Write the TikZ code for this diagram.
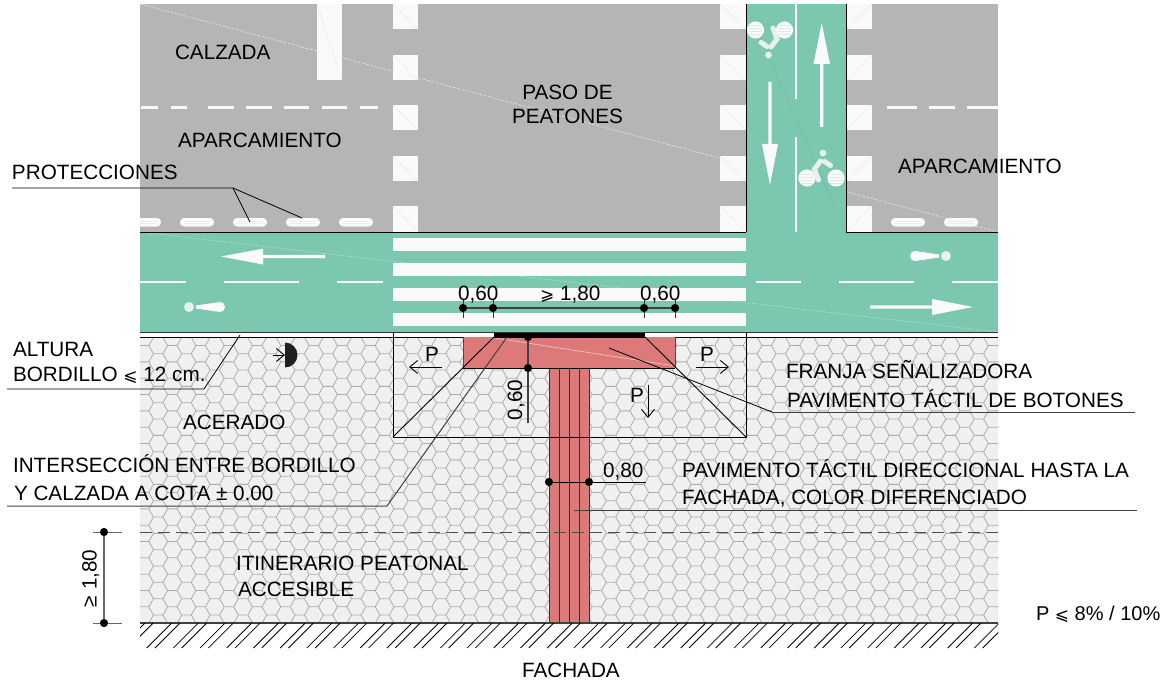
\documentclass[tikz,border=0pt]{standalone}
\usepackage{fontspec}
\setmainfont{Liberation Sans}
\newfontfamily\symf{DejaVu Sans}
\usetikzlibrary{arrows.meta}
\definecolor{road}{HTML}{B5B5B5}
\definecolor{lane}{HTML}{7CC7B0}
\definecolor{paint}{HTML}{FAFAFA}
\definecolor{walk}{HTML}{F0F0F0}
\definecolor{hexc}{HTML}{ADADAD}
\definecolor{tact}{HTML}{DC7A7A}
\newcommand{\gee}{{\symf\fontsize{17}{17}\selectfont ⩾}}
\newcommand{\lee}{{\symf\fontsize{17}{17}\selectfont ⩽}}
\tikzset{
 lbl/.style={anchor=base west,inner sep=0pt,outer sep=0pt,font=\fontsize{20.7}{24}\selectfont},
 leader/.style={draw=black,line width=0.8pt},
 gleader/.style={draw=black!75,line width=1pt},
 edge/.style={draw=black,line width=0.9pt},
 faint/.style={draw=white!75!road,line width=0.5pt,dash pattern=on 3pt off 1.5pt},
 squaremark/.style={fill=paint,draw=none},
 pill/.style={fill=paint,draw=none,rounded corners=4pt},
 paintline/.style={draw=paint,line width=2.2pt},
 dot/.style={circle,fill=black,inner sep=0pt,minimum size=8.2pt},
 tick/.style={draw=black!80,line width=0.9pt},
 slope/.style={draw=black,line width=0.9pt,-{Straight Barb[length=8pt,width=13pt,line width=0.9pt]}},
 wheel/.style={fill=paint,draw=none},
 limb/.style={draw=paint!85!lane,line width=5pt,line cap=round},
}
\newcommand{\bikeicon}[3]{%
 \begin{scope}[shift={(#1,#2)},rotate=#3]
  \fill[wheel] (-14.5,0) circle (8.6);
  \fill[wheel] (14.5,0) circle (8.6);
  \foreach \dy in {-4,-1,2,5}{
   \draw[lane!25!paint,line width=0.5pt] (-21,\dy) -- (-8,\dy);
   \draw[lane!25!paint,line width=0.5pt] (8,\dy) -- (21,\dy);}
  \fill[paint!85!lane] (1.5,-25) circle (3.4);
  \draw[limb] (-1,-17) -- (-7,-9) -- (-3,2);
  \draw[limb] (3,-16.5) -- (9,-12.5);
 \end{scope}}
\newcommand{\smallbike}[3]{%
 \fill[paint!85!lane] (#1,#2) circle (5);
 \fill[paint] (#1+#3*7,#2-1.5) -- (#1+#3*31,#2-5) -- (#1+#3*31,#2+5) -- (#1+#3*7,#2+1.5) -- cycle;
 \fill[paint] (#1+#3*31,#2) circle (5);}
\begin{document}
\begin{tikzpicture}[x=1pt,y=-1pt]
\useasboundingbox (0,0) rectangle (1168,682);
% ---- surfaces
\fill[road] (140,4) rectangle (998,232);
\fill[walk] (140,337) rectangle (998,623);
% hexagon paving
\begin{scope}
 \clip (140,337) rectangle (998,623);
 \foreach \i in {0,...,63}{
  \pgfmathsetmacro{\cx}{129.9+14.15*\i}
  \pgfmathsetmacro{\cy}{mod(\i,2)==0 ? 623.17 : 615}
  \foreach \j in {-1,0,...,18}{
   \draw[hexc,line width=0.8pt] ({\cx-9.43},{\cy-16.33*\j}) -- ++(4.71,-8.17) -- ++(9.43,0) -- ++(4.71,8.17);
  }}
\end{scope}
% ---- road markings
\fill[squaremark] (317,4) rectangle (342,80);
\foreach \y in {4,55,105,156,206}{
 \fill[squaremark] (393,\y) rectangle (418,\y+25.5);
 \fill[squaremark] (720,\y) rectangle (746,\y+25.5);
 \fill[squaremark] (846,\y) rectangle (872,\y+25.5);
 \draw[black!10,line width=0.4pt] (393,\y) -- (418,\y+25.5);
 \draw[black!10,line width=0.4pt] (720,\y) -- (746,\y+25.5);
 \draw[black!10,line width=0.4pt] (846,\y+25.5) -- (872,\y);
}
\draw[black!10,line width=0.4pt] (317,4) -- (342,80);
\foreach \a/\b in {141/158,171/187,208/234,246/272,284/309,322/347,360/378,887/917,929/955,967/998}{
 \draw[paintline] (\a,107.5) -- (\b,107.5);}
\foreach \a/\b in {180/214,233/267,286/320,339/373,891/925,944/978}{
 \fill[pill] (\a,218) rectangle (\b,226.5);
 \draw[black!7,line width=0.4pt] (\a+4,221) -- (\b-4,221) (\a+4,223.5) -- (\b-4,223.5);}
\begin{scope}
 \clip (140,210) rectangle (998,232);
 \fill[pill] (120,218) rectangle (161,226.5);
 \draw[black!7,line width=0.4pt] (140,221) -- (157,221) (140,223.5) -- (157,223.5);
\end{scope}
\draw[faint] (140,4) -- (998,232);
% ---- bike lanes
\fill[lane] (746,4) rectangle (846,232);
\fill[lane] (140,232) rectangle (998,332);
\draw[faint,draw=lane!55!white] (140,232) -- (998,332);
\draw[lane!92!black,line width=0.4pt] (770,60) -- (846,232);
\foreach \y in {238,263,288,313}{\fill[squaremark] (393,\y) rectangle (746,\y+12.7);}
\foreach \a/\b in {140/186,224/299,337/383,756/801,839/914,952/998}{
 \draw[paintline] (\a,281.7) -- (\b,281.7);}
\draw[paintline] (796,4) -- (796,99) (796,137) -- (796,232);
% arrows
\fill[paint] (221,256.5) -- (263,248.7) -- (263,254.8) -- (325,254.8) -- (325,258.2) -- (263,258.2) -- (263,264.5) -- cycle;
\fill[paint] (973,307) -- (932,299) -- (932,305.3) -- (870,305.3) -- (870,308.7) -- (932,308.7) -- (932,315) -- cycle;
\fill[paint] (821.7,23) -- (813.5,64) -- (820,64) -- (820,127) -- (823.4,127) -- (823.4,64) -- (830,64) -- cycle;
\fill[paint] (770,185) -- (762,144) -- (768.3,144) -- (768.3,82) -- (771.7,82) -- (771.7,144) -- (778,144) -- cycle;
\smallbike{189}{307}{1}
\smallbike{946}{256}{-1}
\bikeicon{821.5}{178}{0}
\bikeicon{770}{30}{180}
% ---- kerb lines
\fill[white] (140,332) rectangle (998,337);
\draw[edge] (140,232) -- (746,232) (746,4) -- (746,232);
\draw[edge] (846,4) -- (846,232) -- (998,232);
\draw[edge,draw=black!80] (140,332) -- (998,332);
\draw[edge] (140,337) -- (998,337);
% ---- tactile pavement
\fill[tact] (463,337) rectangle (675,368);
\fill[tact] (549,368) rectangle (589,623);
\draw[white!70!tact,line width=0.5pt] (495,338) -- (675,366);
\foreach \x in {549,559,569,579,589}{\draw[black!80,line width=0.9pt] (\x,368) -- (\x,623);}
\draw[black!70,line width=0.9pt] (463,337) -- (463,368);
\draw[black!70,line width=0.9pt] (675,337) -- (675,368);
\draw[edge] (463,368) -- (675,368);
\fill[black] (494,333) rectangle (645,337.5);
% ramp
\draw[edge] (393,333) -- (393,437) -- (746,437) -- (746,333);
\draw[edge] (494,337) -- (393,437);
\draw[edge] (645,337) -- (746,437);
% slope arrows
\draw[slope] (442,367) -- (409,367);
\draw[slope] (696,367) -- (729,367);
\draw[slope] (648,385) -- (648,418);
\node[lbl] (pl) at (425,361) {P};
\node[lbl] (pr) at (700,361) {P};
\node[lbl] (pd) at (630,402) {P};
% tactile sign pad
\fill[black!88] (285,342.5) arc[start angle=-90,end angle=90,radius=12.5] -- cycle;
\draw[slope] (273,355) -- (285,355);
% ---- facade
\draw[black!75,line width=1.4pt] (140,623) -- (998,623);
\begin{scope}
 \clip (140,623) rectangle (998,650);
 \foreach \k in {0,...,33}{
  \draw[black,line width=0.8pt] ({120.0+26.7*\k},648) -- ++(25,-25);
  \draw[black,line width=0.8pt] ({128.3+26.7*\k},648) -- ++(25,-25);}
\end{scope}
\draw[black!70,line width=0.9pt,dash pattern=on 12pt off 6pt] (140,532) -- (998,532);
% ---- dimensions
\coordinate (d1) at (463,308);\coordinate (d2) at (493,308);\coordinate (d3) at (644,308);\coordinate (d4) at (675,308);
\foreach \c/\x in {d1/463,d2/493,d3/644,d4/675}{
 \draw[tick] (\x,300) -- (\x,318);
 \node[dot] (n\c) at (\c) {};}
\draw[draw=black!75,line width=1.1pt] (nd1) -- (nd2) -- (nd3) -- (nd4);
\node[lbl] (t060a) at (458,300) {0,60};
\node[lbl] (t180) at (540,300) {\gee\ 1,80};
\node[lbl] (t060b) at (640,300) {0,60};
% 0,60 vertical
\coordinate (v1) at (528,337);\coordinate (v2) at (528,368);\coordinate (v3) at (528,423);
\node[dot] (nv1) at (v1) {};
\node[dot] (nv2) at (v2) {};
\draw[draw=black!75,line width=1.1pt] (nv1) -- (nv2) -- (v3);
\node[lbl,rotate=90] (t060c) at (522,420) {0,60};
% 0,80
\coordinate (w1) at (549,482);\coordinate (w2) at (589,482);\coordinate (w3) at (646,482);
\draw[tick] (549,469) -- (549,491) (589,469) -- (589,491);
\node[dot] (nw1) at (w1) {};
\node[dot] (nw2) at (w2) {};
\draw[leader] (nw1) -- (nw2) -- (w3);
\node[lbl] (t080) at (603,477) {0,80};
% >=1,80 left
\coordinate (u1) at (104,532);\coordinate (u2) at (104,623);
\draw[tick,draw=black!60] (93,532) -- (122,532) (93,623) -- (122,623);
\node[dot] (nu1) at (u1) {};
\node[dot] (nu2) at (u2) {};
\draw[draw=black!60,line width=1.3pt] (nu1) -- (nu2);
\node[lbl,rotate=90] (t180b) at (96.5,607) {≥ 1,80};
% ---- labels
\node[lbl] (a) at (175,60) {CALZADA};
\node[lbl] (b) at (178,148) {APARCAMIENTO};
\node[lbl,anchor=base,align=center] (c) at (567.5,100) {PASO DE};
\node[lbl,anchor=base] (c2) at (567.5,124) {PEATONES};
\node[lbl] (d) at (898,174) {APARCAMIENTO};
\node[lbl] (e) at (12,179) {PROTECCIONES};
\node[lbl] (f1) at (13,356) {ALTURA};
\node[lbl] (f2) at (13,381) {BORDILLO \lee\ 12 cm.};
\node[lbl] (g) at (183,429) {ACERADO};
\node[lbl] (h1) at (13,472) {INTERSECCIÓN ENTRE BORDILLO};
\node[lbl] (h2) at (14,500) {Y CALZADA A COTA ± 0.00};
\node[lbl] (i1) at (236,570) {ITINERARIO PEATONAL};
\node[lbl] (i2) at (238,596) {ACCESIBLE};
\node[lbl] (j) at (522,677) {FACHADA};
\node[lbl,font=\fontsize{20}{22}\selectfont] (k) at (1036,620) {P \lee\ 8\% / 10\%};
\node[lbl] (l1) at (786,378) {FRANJA SEÑALIZADORA};
\node[lbl] (l2) at (787,407) {PAVIMENTO TÁCTIL DE BOTONES};
\node[lbl] (m1) at (682,477) {PAVIMENTO TÁCTIL DIRECCIONAL HASTA LA};
\node[lbl] (m2) at (682,504) {FACHADA, COLOR DIFERENCIADO};
% ---- leaders
\draw[leader] (12,188) -- (233,188) -- (250,222);
\draw[leader] (233,188) -- (302,218);
\draw[leader] (7,389) -- (204,389) -- (240,335);
\draw[gleader] (7,506) -- (387,506) -- (507,337);
\draw[gleader] (1135,412) -- (772,412);
\draw[leader] (772,412) -- (609,348);
\draw[gleader] (574,510) -- (1137,510);
\end{tikzpicture}
\end{document}
